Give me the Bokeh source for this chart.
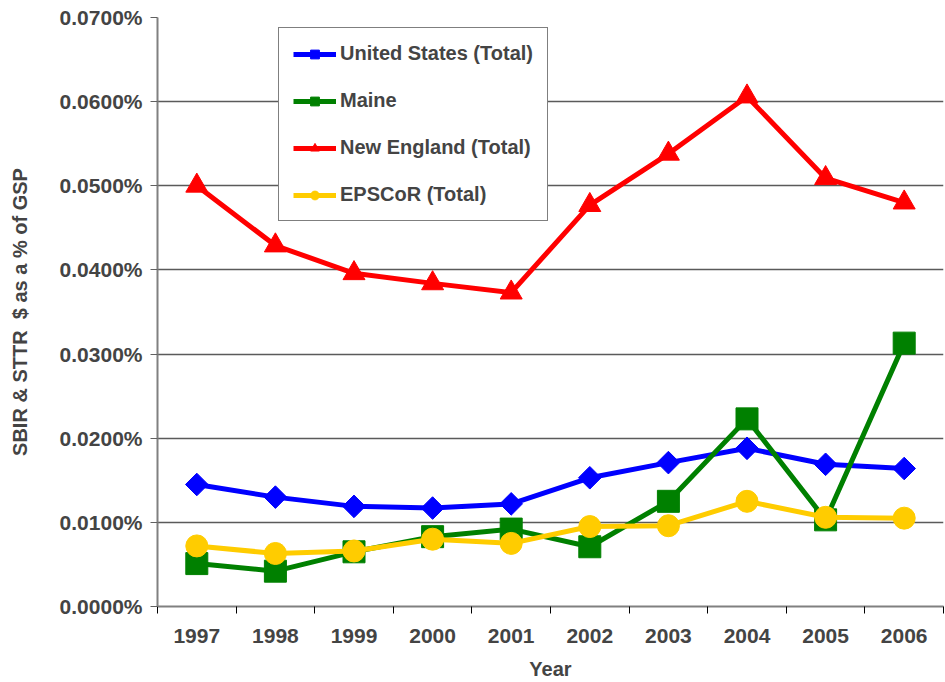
import math
from bokeh.plotting import figure
from bokeh.models import FixedTicker, PrintfTickFormatter, Range1d, Legend
from bokeh.embed import file_html
from bokeh.resources import INLINE

years = [1997, 1998, 1999, 2000, 2001, 2002, 2003, 2004, 2005, 2006]
us_total = [0.0145, 0.0130, 0.0119, 0.0117, 0.0122, 0.0153, 0.0171, 0.0188, 0.0169, 0.0164]
maine = [0.0051, 0.0042, 0.0065, 0.0083, 0.0092, 0.0071, 0.0125, 0.0223, 0.0103, 0.0313]
new_england = [0.0500, 0.0429, 0.0396, 0.0384, 0.0373, 0.0477, 0.0538, 0.0606, 0.0509, 0.0480]
epscor = [0.0072, 0.0063, 0.0066, 0.0080, 0.0075, 0.0095, 0.0096, 0.0125, 0.0106, 0.0105]
y_ticks = [0.0, 0.01, 0.02, 0.03, 0.04, 0.05, 0.06, 0.07]

FONT = "Liberation Sans"

p = figure(width=944, height=682, output_backend="svg", toolbar_location=None,
           x_range=Range1d(1996.5, 2006.5), y_range=Range1d(0, 0.07),
           min_border_left=157, min_border_right=1, min_border_top=17, min_border_bottom=76)
p.outline_line_color = None
p.background_fill_color = "white"

# axes
p.xaxis.ticker = FixedTicker(ticks=years, minor_ticks=[y - 0.5 for y in years] + [2006.5])
p.xaxis.major_tick_out = 0
p.xaxis.major_tick_in = 0
p.xaxis.minor_tick_out = 7
p.xaxis.minor_tick_in = 0
p.xaxis.minor_tick_line_color = "black"
p.xaxis.axis_line_color = "#808080"
p.xaxis.axis_line_width = 2
p.xaxis.major_label_standoff = 15
p.xaxis.major_label_text_font = FONT
p.xaxis.major_label_text_font_style = "bold"
p.xaxis.major_label_text_font_size = "21px"
p.xaxis.axis_label = "Year"
p.xaxis.axis_label_text_font = FONT
p.xaxis.axis_label_text_font_style = "bold"
p.xaxis.axis_label_text_font_size = "20px"
p.xaxis.axis_label_standoff = 12

p.yaxis.ticker = FixedTicker(ticks=y_ticks, minor_ticks=[])
p.yaxis.formatter = PrintfTickFormatter(format="%.4f%%")
p.yaxis.major_tick_out = 7
p.yaxis.major_tick_in = 0
p.yaxis.major_tick_line_color = "#606060"
p.yaxis.axis_line_color = "#808080"
p.yaxis.axis_line_width = 2
p.yaxis.major_label_standoff = 8
p.yaxis.major_label_text_font = FONT
p.yaxis.major_label_text_font_style = "bold"
p.yaxis.major_label_text_font_size = "21px"
p.yaxis.axis_label = "SBIR & STTR\u00a0\u00a0$ as a % of GSP"
p.yaxis.axis_label_text_font = FONT
p.yaxis.axis_label_text_font_style = "bold"
p.yaxis.axis_label_text_font_size = "20px"
p.yaxis.axis_label_standoff = 26

p.xgrid.grid_line_color = None
p.ygrid.grid_line_color = "#5a5a5a"
p.ygrid.grid_line_width = 1.5

series = [
    ("United States (Total)", us_total, "#0000FF", "square", math.pi / 4, 16, 5),
    ("Maine", maine, "#008000", "square", 0, 22, 5),
    ("New England (Total)", new_england, "#FF0000", "triangle", 0, 22, 5),
    ("EPSCoR (Total)", epscor, "#FFCC00", "circle", 0, 22, 5),
]

items = []
for label, vals, color, marker, angle, size, lw in series:
    r1 = p.line(years, vals, line_color=color, line_width=lw)
    r2 = p.scatter(years, vals, marker=marker, size=size, angle=angle,
                   fill_color=color, line_color=color)
    items.append((label, [r1, r2]))

legend = Legend(items=items, location=(121, 385))
legend.margin = 0
legend.padding = 14
legend.spacing = 24
legend.label_height = 22
legend.glyph_height = 22
legend.glyph_width = 43
legend.label_standoff = 4
legend.label_text_font = FONT
legend.label_text_font_style = "bold"
legend.label_text_font_size = "20px"
legend.border_line_color = "black"
legend.border_line_width = 1.5
legend.background_fill_color = "white"
legend.background_fill_alpha = 1.0
p.add_layout(legend, "center")

open("out.html", "w").write(file_html(p, INLINE))
